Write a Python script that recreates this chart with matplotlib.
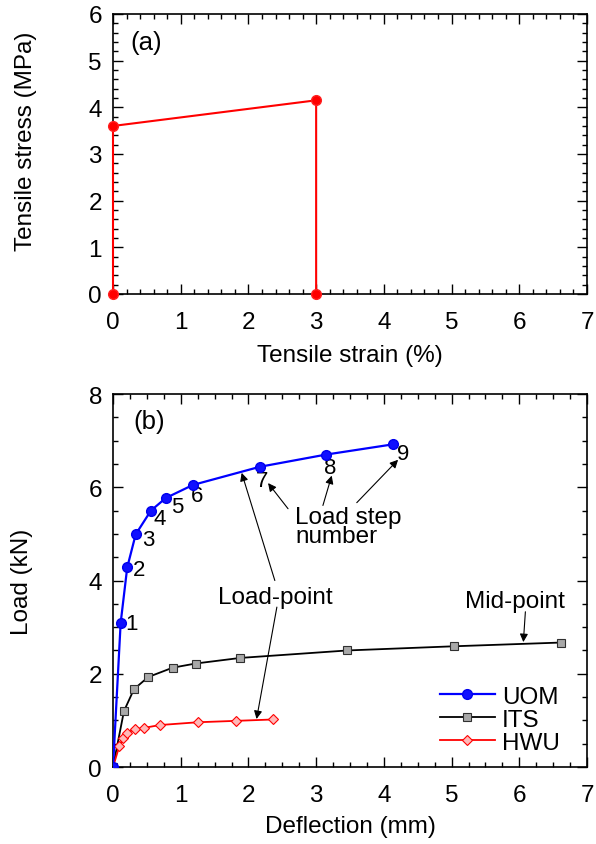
import matplotlib
matplotlib.use("Agg")
import matplotlib.pyplot as plt
from matplotlib.ticker import MultipleLocator

plt.rcParams['font.family'] = ['Liberation Sans', 'DejaVu Sans']
plt.rcParams['font.size'] = 17.5

# panel (a): tensile stress-strain
strain = [0, 0, 3, 3]
stress = [0, 3.6, 4.15, 0]

# panel (b): load-deflection
uom_x = [0, 0.113, 0.21, 0.335, 0.56, 0.78, 1.18, 2.17, 3.14, 4.13]
uom_y = [0, 3.09, 4.28, 4.99, 5.50, 5.77, 6.05, 6.44, 6.70, 6.92]
its_x = [0, 0.162, 0.31, 0.52, 0.88, 1.22, 1.88, 3.46, 5.04, 6.62]
its_y = [0, 1.20, 1.67, 1.93, 2.13, 2.22, 2.34, 2.50, 2.59, 2.67]
hwu_x = [0, 0.094, 0.15, 0.20, 0.33, 0.46, 0.69, 1.25, 1.81, 2.37]
hwu_y = [0, 0.45, 0.62, 0.74, 0.81, 0.84, 0.90, 0.96, 0.99, 1.02]
step_labels = ['1', '2', '3', '4', '5', '6', '7', '8', '9']
step_offsets = [(11, 1), (12, 2), (13, 5), (9, 8), (11, 8), (4, 11), (2, 14), (5, 13), (10, 9)]

fig = plt.figure(figsize=(5.96, 8.45), dpi=100)
ax1 = fig.add_axes([0.1896, 0.6509, 0.7953, 0.3314])
ax2 = fig.add_axes([0.1896, 0.0911, 0.7953, 0.4414])


def style(ax):
    for s in ax.spines.values():
        s.set_linewidth(1.2)
    ax.tick_params(which='both', direction='in', top=True, right=True, width=1.0)
    ax.tick_params(which='major', length=7)
    ax.tick_params(which='minor', length=3.6)
    ax.tick_params(axis='x', pad=12)
    ax.tick_params(axis='y', pad=8)


# (a)
ax1.plot(strain, stress, color='#ff0000', lw=1.5, marker='o', ms=7,
         mfc='#ff0000', mec='#ff2020', clip_on=False, zorder=3)
ax1.set_xlim(0, 7)
ax1.set_ylim(0, 6)
ax1.xaxis.set_major_locator(MultipleLocator(1))
ax1.xaxis.set_minor_locator(MultipleLocator(0.2))
ax1.yaxis.set_major_locator(MultipleLocator(1))
ax1.yaxis.set_minor_locator(MultipleLocator(0.2))
style(ax1)
ax1.set_xlabel('Tensile strain (%)')
ax1.set_ylabel('Tensile stress (MPa)')
ax1.xaxis.label.set_va('center')
ax1.yaxis.label.set_va('center')
ax1.xaxis.set_label_coords(0.5, -0.218)
ax1.yaxis.set_label_coords(-0.184, 0.55)
ax1.text(0.25, 5.4, '(a)', ha='left', va='center', fontsize=18.5)

# (b)
ax2.plot(uom_x, uom_y, color='#0000ff', lw=1.6, marker='o', ms=7,
         mfc='#1010ff', mec='#0000ee', label='UOM', zorder=4)
ax2.plot(its_x, its_y, color='black', lw=1.3, marker='s', ms=5.5,
         mfc='#a8a8a8', mec='#303030', mew=0.8, label='ITS', zorder=3)
ax2.plot(hwu_x, hwu_y, color='#ff0000', lw=1.3, marker='D', ms=5.5,
         mfc='#ffb8b8', mec='#ff0000', mew=0.8, label='HWU', zorder=3)
ax2.set_xlim(0, 7)
ax2.set_ylim(0, 8)
ax2.xaxis.set_major_locator(MultipleLocator(1))
ax2.xaxis.set_minor_locator(MultipleLocator(0.25))
ax2.yaxis.set_major_locator(MultipleLocator(2))
ax2.yaxis.set_minor_locator(MultipleLocator(0.5))
style(ax2)
ax2.set_xlabel('Deflection (mm)')
ax2.set_ylabel('Load (kN)')
ax2.xaxis.label.set_va('center')
ax2.yaxis.label.set_va('center')
ax2.xaxis.set_label_coords(0.5, -0.157)
ax2.yaxis.set_label_coords(-0.192, 0.5)
ax2.text(0.3, 7.42, '(b)', ha='left', va='center', fontsize=18.5)

for lab, xv, yv, (dx, dy) in zip(step_labels, uom_x[1:], uom_y[1:], step_offsets):
    ax2.annotate(lab, xy=(xv, yv), xytext=(dx, -dy), textcoords='offset pixels',
                 ha='center', va='center', fontsize=16)

arrow = dict(arrowstyle='-|>', color='black', lw=0.8, mutation_scale=12, shrinkA=0, shrinkB=0)
ax2.text(2.69, 5.16, 'Load step\nnumber', ha='left', va='center', linespacing=0.85)
ax2.annotate('', xy=(2.29, 6.09), xytext=(2.585, 5.54), arrowprops=arrow)
ax2.annotate('', xy=(3.23, 6.25), xytext=(3.10, 5.61), arrowprops=arrow)
ax2.annotate('', xy=(4.21, 6.59), xytext=(3.60, 5.67), arrowprops=arrow)

ax2.text(2.40, 3.65, 'Load-point', ha='center', va='center')
ax2.annotate('', xy=(1.90, 6.31), xytext=(2.39, 4.00), arrowprops=arrow)
ax2.annotate('', xy=(2.12, 1.03), xytext=(2.42, 3.43), arrowprops=arrow)

ax2.text(5.94, 3.56, 'Mid-point', ha='center', va='center')
ax2.annotate('', xy=(6.06, 2.68), xytext=(6.09, 3.33), arrowprops=arrow)

ax2.legend(loc='lower left', bbox_to_anchor=(0.69, 0.035), frameon=False,
           borderpad=0, borderaxespad=0, handlelength=2.25, handletextpad=0.3,
           labelspacing=0.05, fontsize=17.5)

fig.savefig('out.png', dpi=100)
